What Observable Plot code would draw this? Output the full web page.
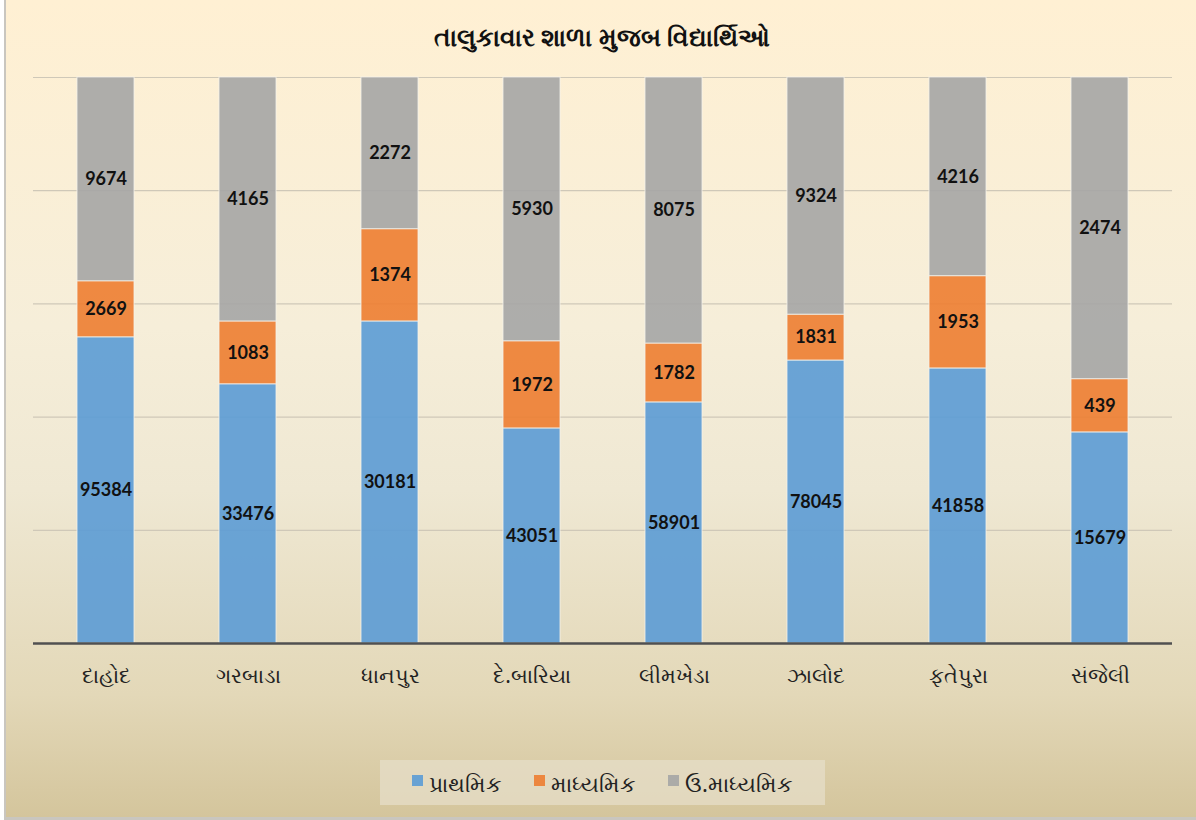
<!DOCTYPE html>
<html>
<head>
<meta charset="utf-8">
<script src="https://cdn.jsdelivr.net/npm/d3@7"></script>
<script src="https://cdn.jsdelivr.net/npm/@observablehq/plot@0.6"></script>
<style>
  html, body { margin: 0; padding: 0; }
  body { width: 1196px; height: 820px; overflow: hidden; }
  #frame {
    position: relative; width: 1192px; height: 820px; box-sizing: border-box;
    background: linear-gradient(to bottom, #fff0d3 0%, #f6eed9 40%, #efe8d3 60%, #e3d8b8 85%, #d4c59c 100%);
    border-left: 2px solid #c9c6bf; border-bottom: 3px solid #c9c6bf;
    margin-left: 4px;
    font-family: "Noto Sans", "Lato", sans-serif;
  }
  #title {
    position: absolute; left: 0; width: 1192px; top: 19px; text-align: center;
    font-size: 25px; font-weight: bold; color: #111;
  }
  #chart { position: absolute; left: -6px; top: 0; width: 1196px; }
  #chart svg { max-width: none; }
  #legend {
    position: absolute; left: 374px; top: 760px; width: 445px; height: 45px;
    background: rgba(230, 222, 200, 0.75);
    display: flex; align-items: center; justify-content: center; gap: 32px;
    font-size: 22px; color: #222;
  }
  .item { display: flex; align-items: center; gap: 6px; }
  .sw { width: 11px; height: 11px; display: inline-block; margin-top: -4px; }
</style>
</head>
<body>
<div id="frame">
  <div id="title">તાલુકાવાર શાળા મુજબ વિદ્યાર્થિઓ</div>
  <div id="chart"></div>
  <div id="legend"></div>
</div>
<script>
// Categories (talukas)
const talukas = ["દાહોદ", "ગરબાડા", "ધાનપુર", "દે.બારિયા", "લીમખેડા", "ઝાલોદ", "ફતેપુરા", "સંજેલી"];
// Series names
const seriesNames = ["પ્રાથમિક", "માધ્યમિક", "ઉ.માધ્યમિક"];
const seriesColors = ["#5b9bd5", "#ed7d31", "#a5a5a5"];
// Printed data labels (number of students)
const primaryLabels   = [95384, 33476, 30181, 43051, 58901, 78045, 41858, 15679];
const secondaryLabels = [2669, 1083, 1374, 1972, 1782, 1831, 1953, 439];
const higherLabels    = [9674, 4165, 2272, 5930, 8075, 9324, 4216, 2474];
// Segment shares (%) as drawn in the 100% stacked columns
const primaryShare   = [54.1, 45.8, 56.9, 38.0, 42.6, 50.0, 48.6, 37.3];
const secondaryShare = [9.9, 11.1, 16.3, 15.4, 10.4, 8.1, 16.3, 9.4];
const higherShare    = [36.0, 43.1, 26.8, 46.6, 47.0, 41.9, 35.1, 53.3];
// Gridline ticks
const yTicks = [0.2, 0.4, 0.6, 0.8, 1];

const labelSets = [primaryLabels, secondaryLabels, higherLabels];
const shareSets = [primaryShare, secondaryShare, higherShare];
const data = [];
talukas.forEach((t, i) => {
  seriesNames.forEach((s, j) => {
    data.push({taluka: t, series: s, share: shareSets[j][i], label: String(labelSets[j][i])});
  });
});

const stackOpts = {offset: "normalize", order: seriesNames};

const plot = Plot.plot({
  width: 1196,
  height: 700,
  marginTop: 77,
  marginBottom: 57,
  marginLeft: 33,
  marginRight: 24,
  style: {background: "transparent", fontFamily: "'Noto Sans', Lato, sans-serif", maxWidth: "none"},
  x: {domain: talukas, paddingInner: 0.6, paddingOuter: 0.3, label: null, axis: null},
  y: {domain: [0, 1], axis: null},
  color: {domain: seriesNames, range: seriesColors},
  marks: [
    Plot.ruleY(yTicks, {stroke: "#cfc8b8", strokeWidth: 1.2}),
    Plot.barY(data, Plot.stackY(stackOpts, {
      x: "taluka", y: "share", z: "series", fill: "series",
      fillOpacity: 0.9, stroke: "#f4f1ea", strokeWidth: 1, strokeOpacity: 0.8
    })),
    Plot.text(data, Plot.stackY(stackOpts, {
      x: "taluka", y: "share", z: "series", text: "label",
      fontSize: 18, fontWeight: "bold", fill: "#111",
      fontFamily: "Lato, 'Open Sans', sans-serif"
    })),
    Plot.ruleY([0], {stroke: "#505050", strokeWidth: 2.5}),
    Plot.axisX({tickSize: 0, tickPadding: 25, fontSize: 21, fill: "#222", label: null})
  ]
});
document.getElementById("chart").appendChild(plot);

const legend = document.getElementById("legend");
seriesNames.forEach((s, j) => {
  const it = document.createElement("div");
  it.className = "item";
  const sw = document.createElement("span");
  sw.className = "sw";
  sw.style.background = seriesColors[j];
  sw.style.opacity = 0.9;
  const tx = document.createElement("span");
  tx.textContent = s;
  it.appendChild(sw); it.appendChild(tx);
  legend.appendChild(it);
});
</script>
</body>
</html>
